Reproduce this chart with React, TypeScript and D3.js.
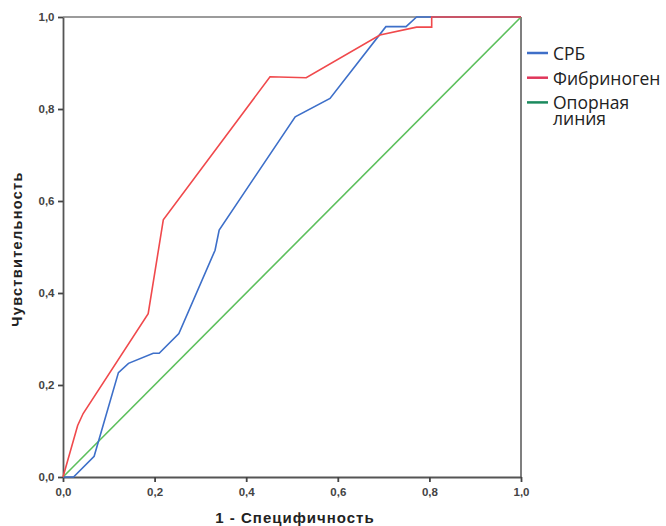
import React, { useEffect, useRef } from 'react';
import * as d3 from 'd3';

// ROC curves: x = 1 - specificity, y = sensitivity
const crpX = [0, 0.023, 0.068, 0.121, 0.143, 0.197, 0.21, 0.253, 0.332, 0.341, 0.507, 0.583, 0.705, 0.749, 0.772, 1];
const crpY = [0, 0, 0.045, 0.227, 0.247, 0.269, 0.269, 0.312, 0.493, 0.537, 0.783, 0.823, 0.979, 0.979, 1, 1];

const fibX = [0, 0.032, 0.044, 0.186, 0.219, 0.452, 0.531, 0.692, 0.772, 0.805, 0.805, 1];
const fibY = [0, 0.112, 0.138, 0.355, 0.559, 0.87, 0.868, 0.961, 0.978, 0.978, 1, 1];

const refX = [0, 1];
const refY = [0, 1];

const ticks = [0, 0.2, 0.4, 0.6, 0.8, 1.0];
const legendLabels = ['СРБ', 'Фибриноген', 'Опорная линия'];
const legendColors = ['#3f6fc8', '#e0365a', '#1b8a5e'];

export default function App() {
  const ref = useRef<SVGSVGElement>(null);
  const width = 666,
    height = 526;
  const margin = { top: 17, right: 145, bottom: 49, left: 63 };

  useEffect(() => {
    const svg = d3.select(ref.current);
    svg.selectAll('*').remove();

    const x = d3.scaleLinear().domain([0, 1]).range([margin.left, width - margin.right]);
    const y = d3.scaleLinear().domain([0, 1]).range([height - margin.bottom, margin.top]);
    const fmt = (d: number) => d3.format('.1f')(d).replace('.', ',');

    // frame
    svg
      .append('line')
      .attr('x1', x(0))
      .attr('x2', x(1))
      .attr('y1', y(1))
      .attr('y2', y(1))
      .attr('stroke', '#7a7a7a')
      .attr('stroke-width', 1.5);
    svg
      .append('line')
      .attr('x1', x(1))
      .attr('x2', x(1))
      .attr('y1', y(1))
      .attr('y2', y(0))
      .attr('stroke', '#555')
      .attr('stroke-width', 1.5);

    const xAxis = svg
      .append('g')
      .attr('transform', `translate(0,${y(0)})`)
      .call(d3.axisBottom(x).tickValues(ticks).tickFormat(fmt as any).tickSize(5).tickSizeOuter(0).tickPadding(5.5));
    const yAxis = svg
      .append('g')
      .attr('transform', `translate(${x(0)},0)`)
      .call(d3.axisLeft(y).tickValues(ticks).tickFormat(fmt as any).tickSize(5).tickSizeOuter(0).tickPadding(3.5));

    [xAxis, yAxis].forEach((g) => {
      g.select('.domain').attr('stroke', '#555').attr('stroke-width', 1.8);
      g.selectAll('.tick line').attr('stroke', '#444').attr('stroke-width', 1.8);
      g.selectAll('.tick text')
        .attr('font-family', 'Liberation Sans, Arial, sans-serif')
        .attr('font-size', 11.5)
        .attr('font-weight', 'bold')
        .attr('fill', '#444');
    });

    const line = d3
      .line<[number, number]>()
      .x((d) => x(d[0]))
      .y((d) => y(d[1]));

    const series = [
      { xs: refX, ys: refY, color: '#5cbf5c' },
      { xs: crpX, ys: crpY, color: '#3d6fc9' },
      { xs: fibX, ys: fibY, color: '#f0494c' },
    ];
    series.forEach((s) => {
      const pts = s.xs.map((v, i) => [v, s.ys[i]] as [number, number]);
      svg
        .append('path')
        .datum(pts)
        .attr('fill', 'none')
        .attr('stroke', s.color)
        .attr('stroke-width', 1.6)
        .attr('d', line);
    });

    // axis titles
    svg
      .append('text')
      .attr('x', 295)
      .attr('y', 523)
      .attr('text-anchor', 'middle')
      .attr('font-family', 'Liberation Sans, Arial, sans-serif')
      .attr('font-size', 15)
      .attr('letter-spacing', 1)
      .attr('font-weight', 'bold')
      .attr('fill', '#222')
      .text('1 - Специфичность');
    svg
      .append('text')
      .attr('transform', 'translate(22,249) rotate(-90)')
      .attr('text-anchor', 'middle')
      .attr('font-family', 'Liberation Sans, Arial, sans-serif')
      .attr('font-size', 14.5)
      .attr('letter-spacing', 1.3)
      .attr('font-weight', 'bold')
      .attr('fill', '#222')
      .text('Чувствительность');

    // legend
    const lg = svg.append('g').attr('transform', 'translate(527,53)');
    legendLabels.forEach((lab, i) => {
      const gy = i * 24.7;
      lg.append('line')
        .attr('x1', 0)
        .attr('x2', 21)
        .attr('y1', gy)
        .attr('y2', gy)
        .attr('stroke', legendColors[i])
        .attr('stroke-width', 2.5);
      const words = lab.split(' ');
      words.forEach((w, j) => {
        lg.append('text')
          .attr('x', 26)
          .attr('y', gy + 7 + j * 16)
          .attr('font-family', 'Open Sans, Noto Sans, sans-serif')
          .attr('font-size', 17.5)
          .attr('fill', '#222')
          .text(w);
      });
    });
  }, []);

  return (
    <svg
      ref={ref}
      width={width}
      height={height}
      style={{ position: 'absolute', left: 0, top: 0, background: '#fff' }}
    />
  );
}
